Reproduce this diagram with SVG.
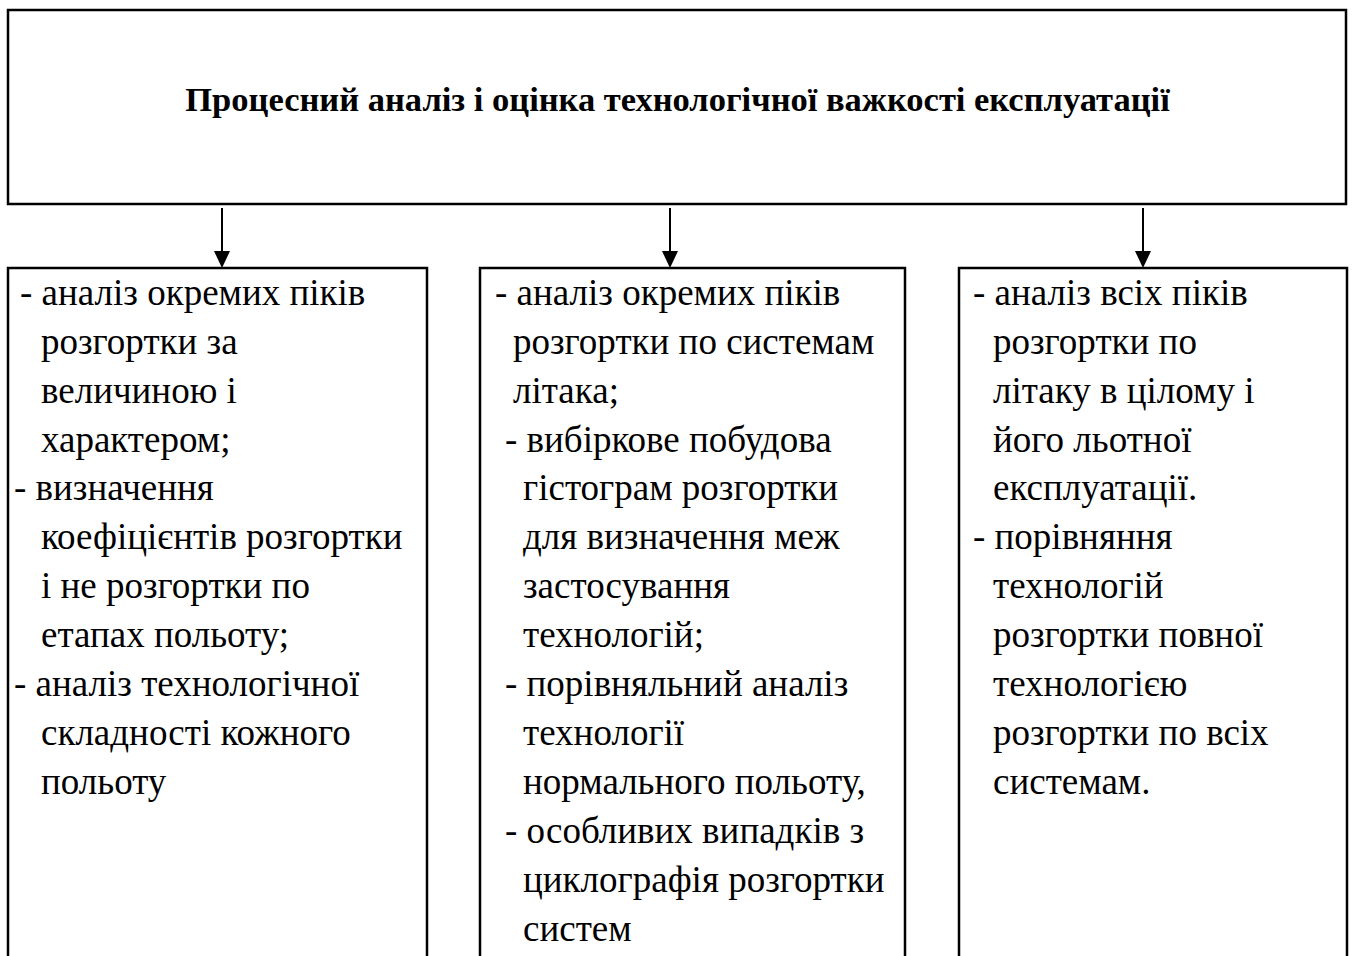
<svg xmlns="http://www.w3.org/2000/svg" width="1353" height="956" viewBox="0 0 1353 956">
<style>
.box{fill:#fff;stroke:#000;stroke-width:2.5}
.t{font-family:"Liberation Serif","Times New Roman",serif;font-size:37px;fill:#000}
.title{font-family:"Liberation Serif","Times New Roman",serif;font-size:34.5px;font-weight:bold;fill:#000}
.conn{stroke:#000;stroke-width:2;fill:none}
</style>
<rect x="0" y="0" width="1353" height="956" fill="#fff"/>
<g id="top">
<rect class="box" x="8" y="10" width="1338" height="194"/>
<text class="title" x="677.5" y="111" text-anchor="middle">Процесний аналіз і оцінка технологічної важкості експлуатації</text>
</g>
<g id="connectors">
<line class="conn" x1="222" y1="208" x2="222" y2="252"/>
<path d="M214,251 L230,251 L222,268 Z"/>
<line class="conn" x1="670" y1="208" x2="670" y2="252"/>
<path d="M662,251 L678,251 L670,268 Z"/>
<line class="conn" x1="1143" y1="208" x2="1143" y2="252"/>
<path d="M1135,251 L1151,251 L1143,268 Z"/>
</g>
<g id="left">
<path class="box" d="M8,960 L8,268 L427,268 L427,960"/>
<text class="t">
<tspan x="20" y="305">- аналіз окремих піків</tspan>
<tspan x="41" y="354">розгортки за</tspan>
<tspan x="41" y="403">величиною і</tspan>
<tspan x="41" y="452">характером;</tspan>
<tspan x="14" y="500">- визначення</tspan>
<tspan x="41" y="549">коефіцієнтів розгортки</tspan>
<tspan x="41" y="598">і не розгортки по</tspan>
<tspan x="41" y="647">етапах польоту;</tspan>
<tspan x="14" y="696">- аналіз технологічної</tspan>
<tspan x="41" y="745">складності кожного</tspan>
<tspan x="41" y="794">польоту</tspan>
</text>
</g>
<g id="middle">
<path class="box" d="M480,960 L480,268 L905,268 L905,960"/>
<text class="t">
<tspan x="495" y="305">- аналіз окремих піків</tspan>
<tspan x="513" y="354">розгортки по системам</tspan>
<tspan x="513" y="403">літака;</tspan>
<tspan x="505" y="452">- вибіркове побудова</tspan>
<tspan x="523" y="500">гістограм розгортки</tspan>
<tspan x="523" y="549">для визначення меж</tspan>
<tspan x="523" y="598">застосування</tspan>
<tspan x="523" y="647">технологій;</tspan>
<tspan x="505" y="696">- порівняльний аналіз</tspan>
<tspan x="523" y="745">технології</tspan>
<tspan x="523" y="794">нормального польоту,</tspan>
<tspan x="505" y="843">- особливих випадків з</tspan>
<tspan x="523" y="892">циклографія розгортки</tspan>
<tspan x="523" y="941">систем</tspan>
</text>
</g>
<g id="right">
<path class="box" d="M959,960 L959,268 L1347,268 L1347,960"/>
<text class="t">
<tspan x="973" y="305">- аналіз всіх піків</tspan>
<tspan x="993" y="354">розгортки по</tspan>
<tspan x="993" y="403">літаку в цілому і</tspan>
<tspan x="993" y="452">його льотної</tspan>
<tspan x="993" y="500">експлуатації.</tspan>
<tspan x="973" y="549">- порівняння</tspan>
<tspan x="993" y="598">технологій</tspan>
<tspan x="993" y="647">розгортки повної</tspan>
<tspan x="993" y="696">технологією</tspan>
<tspan x="993" y="745">розгортки по всіх</tspan>
<tspan x="993" y="794">системам.</tspan>
</text>
</g>
</svg>
